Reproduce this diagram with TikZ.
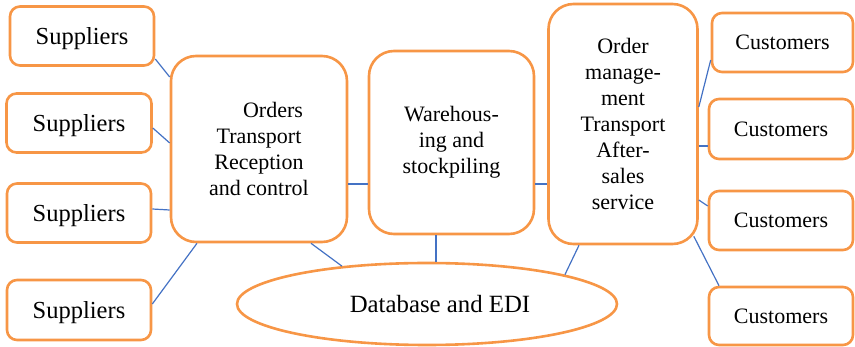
\documentclass[tikz,border=0pt]{standalone}
\usepackage{fontspec}
\setmainfont{Liberation Serif}
\usepackage{tikz}
\usetikzlibrary{shapes.geometric}

\definecolor{boxorange}{RGB}{247,150,70}
\definecolor{linkblue}{RGB}{68,114,196}

\tikzset{
  endbox/.style={draw=boxorange,line width=2.6pt,rounded corners=10pt,fill=white,inner sep=0pt,text depth=0pt},
  midbox/.style={draw=boxorange,line width=2.6pt,rounded corners=25pt,fill=white,inner sep=0pt,align=center,
    font=\fontsize{22}{26}\selectfont},
  link/.style={draw=linkblue,line width=1.2pt}
}

\begin{document}
\begin{tikzpicture}[x=1pt,y=-1pt]
\useasboundingbox (0,0) rectangle (855,347);

%Suppliers
\node[endbox,minimum width=144pt,minimum height=59pt,font=\fontsize{24.5}{28}\selectfont] (s1) at (82,36) {Suppliers};
\node[endbox,minimum width=145pt,minimum height=59pt,font=\fontsize{24.5}{28}\selectfont] (s2) at (79,123) {Suppliers};
\node[endbox,minimum width=144pt,minimum height=59pt,font=\fontsize{24.5}{28}\selectfont] (s3) at (79,213) {Suppliers};
\node[endbox,minimum width=144pt,minimum height=60pt,font=\fontsize{24.5}{28}\selectfont] (s4) at (79,310) {Suppliers};

%Central blocks
\node[midbox,minimum width=176pt,minimum height=186pt] (orders) at (259,149) {\hspace*{28pt}Orders\\Transport\\Reception\\and control};
\node[midbox,minimum width=165pt,minimum height=183pt] (store) at (451.5,142.5) {Warehous-\\ing and\\stockpiling};
\node[midbox,minimum width=149pt,minimum height=240pt] (om) at (623,124) {Order\\manage-\\ment\\Transport\\After-\\sales\\service};

%Customers
\node[endbox,minimum width=141pt,minimum height=59pt,font=\fontsize{22}{26}\selectfont] (c1) at (782.5,42.5) {Customers};
\node[endbox,minimum width=144pt,minimum height=60pt,font=\fontsize{22}{26}\selectfont] (c2) at (781,129) {Customers};
\node[endbox,minimum width=144pt,minimum height=59pt,font=\fontsize{22}{26}\selectfont] (c3) at (781,220.5) {Customers};
\node[endbox,minimum width=144pt,minimum height=58pt,font=\fontsize{22}{26}\selectfont] (c4) at (781,316) {Customers};

%Database
\node[ellipse,draw=boxorange,line width=2.6pt,fill=white,inner sep=0pt,text depth=0pt,minimum width=380pt,minimum height=82pt,
  font=\fontsize{24.8}{28}\selectfont] (db) at (427,304) {\hspace*{26pt}Database and EDI};

%Links
\draw[link] ([yshift=-23pt]s1.east) -- ([yshift=72pt]orders.west);
\draw[link] ([yshift=-5pt]s2.east) -- ([yshift=6pt]orders.west);
\draw[link] ([yshift=4pt]s3.east) -- ([yshift=-61pt]orders.west);
\draw[link] ([yshift=6pt]s4.east) -- ([xshift=-62pt]orders.south);
\draw[link] ([xshift=52pt]orders.south) -- (db.156.5);
\draw[link] ([yshift=-35pt]orders.east) -- ([yshift=-35pt]orders.east -| store.west);
\draw[link] ([yshift=-41.5pt]store.east) -- ([yshift=-41.5pt]store.east -| om.west);
\draw[link] ([xshift=-15.5pt]store.south) -- ([xshift=-15.5pt]store.south |- db.north);
\draw[link] ([xshift=-44pt]om.south) -- (db.12.6);
\draw[link] ([yshift=17pt]om.east) -- ([yshift=-17.5pt]c1.west);
\draw[link] ([yshift=-22pt]om.east) -- ([yshift=-22pt]om.east -| c2.west);
\draw[link] ([yshift=-76pt]om.east) -- ([yshift=14.5pt]c3.west);
\draw[link] ([shift={(-5pt,9pt)}]om.south east) -- ([xshift=-62pt]c4.north);

\end{tikzpicture}
\end{document}
